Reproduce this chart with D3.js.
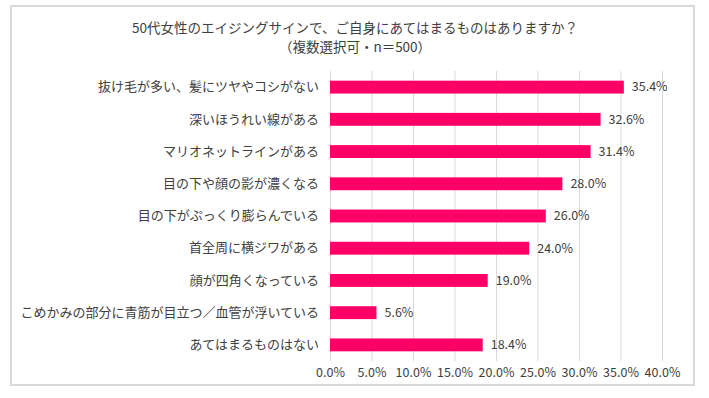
<!DOCTYPE html>
<html>
<head>
<meta charset="utf-8">
<script src="https://cdn.jsdelivr.net/npm/d3@7"></script>
<style>
  body { margin: 0; background: #fff; }
  text { font-family: "Noto Sans CJK JP", "Noto Sans", sans-serif; }
</style>
</head>
<body>
<div id="chart"></div>
<script>
const titleLines = ["50代女性のエイジングサインで、ご自身にあてはまるものはありますか？", "（複数選択可・n＝500）"];
const categories = [
  "抜け毛が多い、髪にツヤやコシがない",
  "深いほうれい線がある",
  "マリオネットラインがある",
  "目の下や顔の影が濃くなる",
  "目の下がぷっくり膨らんでいる",
  "首全周に横ジワがある",
  "顔が四角くなっている",
  "こめかみの部分に青筋が目立つ／血管が浮いている",
  "あてはまるものはない"
];
const values = [35.4, 32.6, 31.4, 28.0, 26.0, 24.0, 19.0, 5.6, 18.4];
const xTicks = [0, 5, 10, 15, 20, 25, 30, 35, 40];

const W = 709, H = 398;
const margin = {top: 71, right: 47, bottom: 37, left: 330},
    width = W - margin.left - margin.right,
    height = H - margin.top - margin.bottom;

const svg = d3.select("#chart")
    .append("svg")
    .attr("width", W)
    .attr("height", H);

// frame
svg.append("rect")
    .attr("x", 11).attr("y", 6)
    .attr("width", 683).attr("height", 379)
    .attr("fill", "none")
    .attr("stroke", "#d9d9d9")
    .attr("stroke-width", 2);

// title
svg.append("g").selectAll("text")
    .data(titleLines)
    .enter()
    .append("text")
    .attr("x", 355)
    .attr("y", (d, i) => 33 + i * 19)
    .attr("text-anchor", "middle")
    .attr("font-size", 13.5)
    .attr("fill", "#404040")
    .text(d => d);

const g = svg.append("g")
    .attr("transform", "translate(" + margin.left + "," + margin.top + ")");

const x = d3.scaleLinear()
    .domain([0, 40])
    .range([0, width]);

const y = d3.scaleBand()
    .domain(categories)
    .range([0, height])
    .paddingInner(0.6)
    .paddingOuter(0.3);

// gridlines
g.append("g")
    .call(d3.axisBottom(x).tickValues(xTicks).tickSize(height).tickFormat(""))
    .call(s => s.select(".domain").remove())
    .call(s => s.selectAll("line").attr("stroke", "#d9d9d9"));

// x axis labels
g.append("g")
    .attr("transform", "translate(0," + height + ")")
    .call(d3.axisBottom(x).tickValues(xTicks).tickSize(0).tickPadding(7)
        .tickFormat(d => d.toFixed(1) + "%"))
    .call(s => s.select(".domain").remove())
    .call(s => s.selectAll("text")
        .attr("font-size", 12.5)
        .attr("fill", "#404040")
        .style("font-family", "\"Noto Sans CJK JP\", sans-serif"));

// y axis labels
g.append("g")
    .call(d3.axisLeft(y).tickSize(0).tickPadding(11))
    .call(s => s.select(".domain").remove())
    .call(s => s.selectAll("text")
        .attr("font-size", 13)
        .attr("fill", "#404040")
        .style("font-family", "\"Noto Sans CJK JP\", sans-serif"));

// bars
g.append("g")
    .selectAll("rect")
    .data(values)
    .enter()
    .append("rect")
    .attr("x", x(0))
    .attr("y", (d, i) => y(categories[i]))
    .attr("width", d => x(d) - x(0))
    .attr("height", y.bandwidth())
    .attr("fill", "#ff0066");

// value labels
g.append("g")
    .selectAll("text")
    .data(values)
    .enter()
    .append("text")
    .attr("x", d => x(d) + 8)
    .attr("y", (d, i) => y(categories[i]) + y.bandwidth() / 2)
    .attr("dy", "0.35em")
    .attr("font-size", 12.5)
    .attr("fill", "#404040")
    .text(d => d.toFixed(1) + "%");
</script>
</body>
</html>
